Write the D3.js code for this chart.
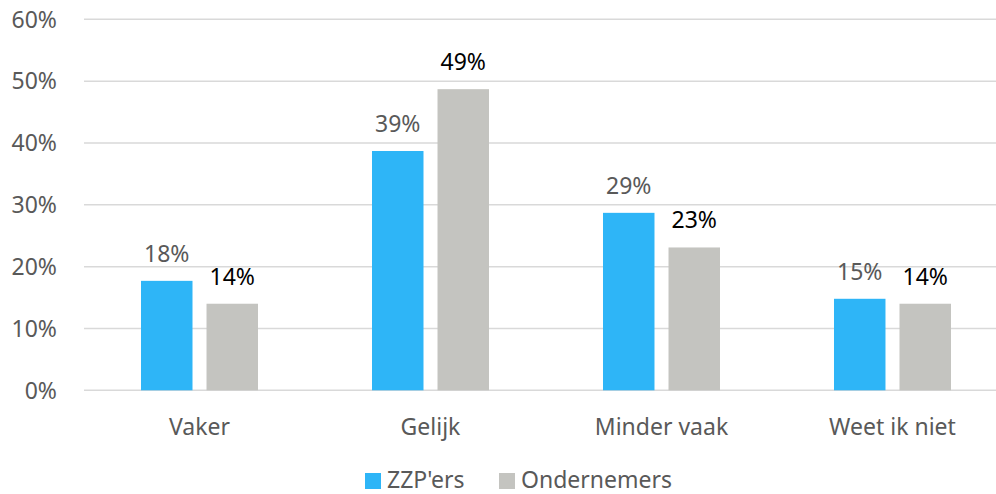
<!DOCTYPE html>
<html>
<head>
<meta charset="utf-8">
<script src="https://cdn.jsdelivr.net/npm/d3@7"></script>
<style>
  body { margin: 0; background: #fff; }
  text { font-family: "Noto Sans", sans-serif; }
</style>
</head>
<body>
<div id="chart"></div>
<script>
// data
const categories = ["Vaker", "Gelijk", "Minder vaak", "Weet ik niet"];
const seriesNames = ["ZZP'ers", "Ondernemers"];
const zzp = [17.7, 38.7, 28.7, 14.8];
const ondernemers = [14.0, 48.7, 23.1, 14.0];
const yTicks = [0, 10, 20, 30, 40, 50, 60];

const colors = ["#2EB5F7", "#C4C4C0"];
const labelColors = ["#595959", "#000000"];

const width = 996, height = 494;

const svg = d3.select("#chart").append("svg")
  .attr("width", width)
  .attr("height", height);

let y = d3.scaleLinear().domain([0, 60]).range([390.3, 19.3]);

let x0 = d3.scaleBand()
  .domain(categories)
  .range([84, 1008])
  .paddingInner(0.4935)
  .paddingOuter(0.2468);

let x1 = d3.scaleBand()
  .domain(seriesNames)
  .range([0, x0.bandwidth()])
  .paddingInner(0.214);

// gridlines
svg.append("g")
  .selectAll("line")
  .data(yTicks)
  .join("line")
  .attr("x1", 84)
  .attr("x2", 1008)
  .attr("y1", d => y(d))
  .attr("y2", d => y(d))
  .attr("stroke", "#d9d9d9")
  .attr("stroke-width", 1.5);

// y tick labels
svg.append("g")
  .selectAll("text")
  .data(yTicks)
  .join("text")
  .attr("x", 57)
  .attr("y", d => y(d))
  .attr("dy", "0.36em")
  .attr("text-anchor", "end")
  .attr("fill", "#595959")
  .style("font-size", "23px")
  .text(d => d + "%");

// bars
const series = [zzp, ondernemers];
const rows = [];
categories.forEach((c, i) => {
  seriesNames.forEach((s, j) => {
    rows.push({cat: c, name: s, idx: j, value: series[j][i]});
  });
});

let groups = svg.append("g");

groups.selectAll("rect")
  .data(rows)
  .join("rect")
  .attr("x", d => x0(d.cat) + x1(d.name))
  .attr("y", d => y(d.value))
  .attr("width", x1.bandwidth())
  .attr("height", d => y(0) - y(d.value))
  .attr("fill", d => colors[d.idx]);

// value labels
groups.selectAll("text")
  .data(rows)
  .join("text")
  .attr("x", d => x0(d.cat) + x1(d.name) + x1.bandwidth() / 2)
  .attr("y", d => y(d.value) - 19)
  .attr("text-anchor", "middle")
  .attr("fill", d => labelColors[d.idx])
  .style("font-size", "23px")
  .text(d => Math.round(d.value) + "%");

// category labels
svg.append("g")
  .selectAll("text")
  .data(categories)
  .join("text")
  .attr("x", d => x0(d) + x0.bandwidth() / 2)
  .attr("y", 435)
  .attr("text-anchor", "middle")
  .attr("fill", "#595959")
  .style("font-size", "23px")
  .text(d => d);

// legend
const legendX = [365, 499];
let legend = svg.append("g");
seriesNames.forEach((s, i) => {
  legend.append("rect")
    .attr("x", legendX[i])
    .attr("y", 473)
    .attr("width", 16)
    .attr("height", 16)
    .attr("fill", colors[i]);
  legend.append("text")
    .attr("x", legendX[i] + 22)
    .attr("y", 488)
    .attr("fill", "#595959")
    .style("font-size", "23px")
    .text(s);
});
</script>
</body>
</html>
